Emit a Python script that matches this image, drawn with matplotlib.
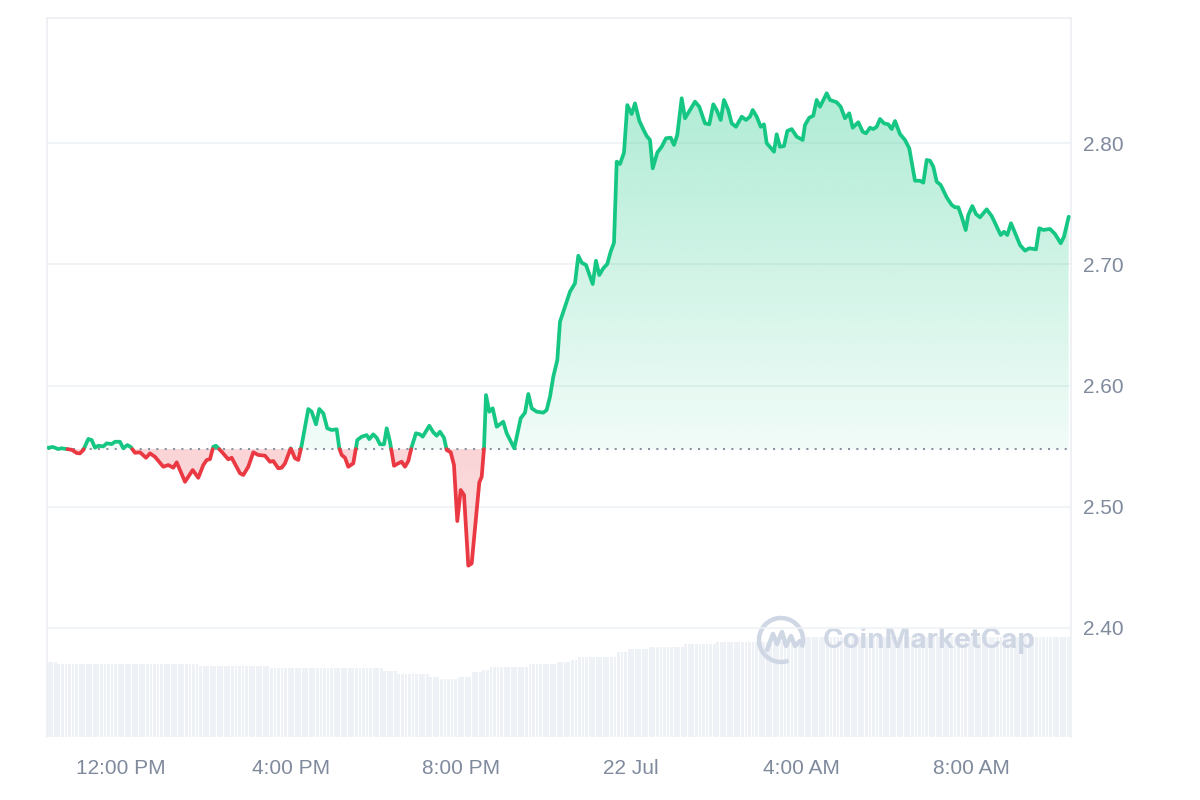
import numpy as np
import matplotlib.pyplot as plt
import matplotlib.colors as mcolors
from matplotlib.patches import Arc

plt.rcParams['font.family'] = ['Liberation Sans', 'DejaVu Sans']

# hours relative to 12:00 PM, 21 Jul
times = [-1.711, -1.600, -1.482, -1.395, -1.278, -1.160, -1.042, -0.965, -0.887, -0.769,
         -0.689, -0.612, -0.534, -0.416, -0.336, -0.219, -0.141, -0.024, 0.054, 0.148,
         0.228, 0.329, 0.447, 0.588, 0.682, 0.800, 0.995, 1.113, 1.231, 1.311,
         1.506, 1.687, 1.819, 1.936, 2.016, 2.094, 2.172, 2.235, 2.369, 2.525,
         2.605, 2.800, 2.878, 2.995, 3.113, 3.231, 3.388, 3.506, 3.584, 3.701,
         3.781, 3.859, 3.993, 4.094, 4.172, 4.252, 4.407, 4.487, 4.588, 4.666,
         4.760, 4.854, 4.958, 5.075, 5.136, 5.193, 5.271, 5.348, 5.466, 5.560,
         5.664, 5.781, 5.842, 5.936, 6.016, 6.094, 6.188, 6.252, 6.329, 6.424,
         6.525, 6.605, 6.682, 6.760, 6.840, 6.941, 7.035, 7.099, 7.254, 7.348,
         7.428, 7.506, 7.600, 7.664, 7.758, 7.835, 7.913, 7.993, 8.071, 8.172,
         8.252, 8.329, 8.431, 8.487, 8.541, 8.588, 8.666, 8.746, 8.840, 8.995,
         9.075, 9.254, 9.405, 9.506, 9.584, 9.664, 9.781, 9.936, 10.016, 10.094,
         10.172, 10.266, 10.329, 10.447, 10.565, 10.682, 10.760, 10.840, 10.941, 11.099,
         11.176, 11.254, 11.348, 11.442, 11.522, 11.600, 11.664, 11.741, 11.835, 11.913,
         12.016, 12.094, 12.195, 12.289, 12.369, 12.447, 12.511, 12.620, 12.722, 12.824,
         12.934, 13.012, 13.089, 13.193, 13.271, 13.388, 13.506, 13.607, 13.741, 13.842,
         13.936, 14.016, 14.111, 14.188, 14.289, 14.369, 14.471, 14.605, 14.706, 14.800,
         14.864, 14.958, 15.052, 15.129, 15.193, 15.287, 15.365, 15.428, 15.506, 15.600,
         15.678, 15.781, 15.899, 16.040, 16.094, 16.195, 16.289, 16.369, 16.447, 16.605,
         16.682, 16.840, 16.934, 17.035, 17.136, 17.216, 17.348, 17.452, 17.529, 17.624,
         17.701, 17.781, 17.859, 17.953, 18.054, 18.134, 18.212, 18.329, 18.447, 18.548,
         18.682, 18.800, 18.878, 18.958, 19.035, 19.113, 19.193, 19.287, 19.428, 19.546,
         19.624, 19.701, 19.781, 19.875, 19.936, 20.031, 20.118, 20.212, 20.369, 20.487,
         20.588, 20.699, 20.776, 20.854, 20.941, 21.035, 21.153, 21.271, 21.372, 21.529,
         21.607, 21.701, 21.859, 21.976, 22.111, 22.188, 22.299]

prices = [2.5487, 2.5493, 2.5476, 2.5482, 2.5476, 2.5470, 2.5443, 2.5440, 2.5468, 2.5559,
          2.5550, 2.5487, 2.5503, 2.5498, 2.5523, 2.5517, 2.5536, 2.5536, 2.5482, 2.5509,
          2.5493, 2.5445, 2.5449, 2.5404, 2.5440, 2.5412, 2.5330, 2.5344, 2.5322, 2.5366,
          2.5206, 2.5303, 2.5239, 2.5344, 2.5385, 2.5393, 2.5495, 2.5503, 2.5454, 2.5391,
          2.5404, 2.5276, 2.5262, 2.5330, 2.5449, 2.5427, 2.5421, 2.5371, 2.5377, 2.5317,
          2.5322, 2.5358, 2.5482, 2.5400, 2.5386, 2.5509, 2.5806, 2.5784, 2.5680, 2.5806,
          2.5771, 2.5647, 2.5633, 2.5639, 2.5482, 2.5427, 2.5404, 2.5330, 2.5358, 2.5550,
          2.5578, 2.5591, 2.5558, 2.5597, 2.5569, 2.5515, 2.5515, 2.5647, 2.5536, 2.5338,
          2.5358, 2.5371, 2.5330, 2.5377, 2.5495, 2.5606, 2.5597, 2.5578, 2.5668, 2.5614,
          2.5586, 2.5619, 2.5569, 2.5468, 2.5449, 2.5344, 2.4882, 2.5138, 2.5097, 2.4514,
          2.4533, 2.4822, 2.5201, 2.5247, 2.5482, 2.5921, 2.5784, 2.5812, 2.5660, 2.5701,
          2.5606, 2.5482, 2.5730, 2.5776, 2.5930, 2.5812, 2.5784, 2.5776, 2.5798, 2.5908,
          2.6073, 2.6210, 2.6526, 2.6650, 2.6774, 2.6843, 2.7070, 2.7013, 2.6994, 2.6837,
          2.7029, 2.6911, 2.6967, 2.7002, 2.7104, 2.7178, 2.7846, 2.7827, 2.7920, 2.8313,
          2.8239, 2.8327, 2.8184, 2.8113, 2.8058, 2.8025, 2.7791, 2.7922, 2.7969, 2.8039,
          2.8044, 2.7984, 2.8066, 2.8369, 2.8204, 2.8272, 2.8341, 2.8299, 2.8162, 2.8154,
          2.8319, 2.8272, 2.8190, 2.8355, 2.8272, 2.8162, 2.8134, 2.8217, 2.8190, 2.8217,
          2.8272, 2.8217, 2.8134, 2.8154, 2.7998, 2.7961, 2.7928, 2.8072, 2.7969, 2.7975,
          2.8099, 2.8115, 2.8052, 2.8025, 2.8148, 2.8209, 2.8225, 2.8355, 2.8299, 2.8410,
          2.8355, 2.8336, 2.8299, 2.8204, 2.8245, 2.8126, 2.8171, 2.8093, 2.8080, 2.8126,
          2.8115, 2.8134, 2.8198, 2.8162, 2.8154, 2.8115, 2.8181, 2.8074, 2.8025, 2.7956,
          2.7689, 2.7689, 2.7673, 2.7860, 2.7854, 2.7805, 2.7681, 2.7654, 2.7552, 2.7489,
          2.7470, 2.7470, 2.7392, 2.7282, 2.7406, 2.7480, 2.7414, 2.7387, 2.7453, 2.7398,
          2.7324, 2.7241, 2.7268, 2.7241, 2.7338, 2.7260, 2.7159, 2.7112, 2.7132, 2.7123,
          2.7297, 2.7283, 2.7291, 2.7250, 2.7173, 2.7227, 2.7392]

open_price = 2.5475

# volume (24h rolling, arbitrary units) as steps: level i holds until vol_breaks[i]
vol_breaks = [-1.48, 1.86, 3.46, 6.14, 6.49, 7.27, 7.46, 7.91, 8.21, 8.47, 8.64,
              9.62, 10.26, 10.56, 10.73, 11.67, 11.91, 12.38, 13.22, 14.02, 16.05]
vol_levels = [7.47, 7.27, 7.07, 6.87, 6.63, 6.27, 6.03, 5.83, 6.03, 6.47, 6.67,
              7.03, 7.27, 7.47, 7.70, 7.97, 8.47, 8.80, 9.03, 9.27, 9.47, 10.03]

xtick_pos = [0, 4, 8, 12, 16, 20]
xtick_labels = ['12:00 PM', '4:00 PM', '8:00 PM', '22 Jul', '4:00 AM', '8:00 AM']
ytick_vals = [2.40, 2.50, 2.60, 2.70, 2.80]

GREEN = '#16c784'
RED = '#ea3943'
GREY_TXT = '#808a9d'
GRID = '#eff2f5'

t = np.array(times)
p = np.array(prices)
assert len(t) == len(p)


def with_crossings(x, y, base):
    xx, yy = [x[0]], [y[0]]
    for i in range(1, len(x)):
        a, b = y[i - 1] - base, y[i] - base
        if a * b < 0:
            f = a / (a - b)
            xx.append(x[i - 1] + f * (x[i] - x[i - 1]))
            yy.append(base)
        xx.append(x[i])
        yy.append(y[i])
    return np.array(xx), np.array(yy)


def gradient_fill(ax, x, y1, y2, color, a_top, a_bot, ylo, yhi):
    poly = ax.fill_between(x, y1, y2, facecolor='none', edgecolor='none')
    img = np.zeros((256, 1, 4))
    img[:, :, :3] = mcolors.to_rgb(color)
    img[:, 0, 3] = np.linspace(a_top, a_bot, 256)
    im = ax.imshow(img, aspect='auto', origin='upper', zorder=2,
                   extent=[x.min(), x.max(), ylo, yhi], interpolation='bilinear')
    im.set_clip_path(poly.get_paths()[0], transform=ax.transData)


tt, pp = with_crossings(t, p, open_price)

fig = plt.figure(figsize=(12, 8), dpi=100)
pos = [47 / 1200, 63 / 800, 1024 / 1200, 719 / 800]
xlim = (-1.741, 22.353)
ylim = (2.3101, 2.9031)

# volume axes (behind)
axv = fig.add_axes(pos, zorder=0)
step = 5 / 60
bar_t = np.arange(t[0], t[-1] + step / 2, step)
bar_v = np.array(vol_levels)[np.searchsorted(vol_breaks, bar_t)]
axv.bar(bar_t, bar_v, width=step * 0.8, color='#eef1f5', linewidth=0)
axv.set_xlim(xlim)
axv.set_ylim(0, 71.9)
axv.axis('off')

# watermark
axw = fig.add_axes([0, 0, 1, 1], zorder=1)
axw.set_xlim(0, 1200)
axw.set_ylim(800, 0)
axw.axis('off')
axw.add_patch(Arc((781, 640), 44, 44, theta1=70, theta2=20, color='#cfd6e4', lw=3.2))
axw.plot([767, 773, 777, 782, 786, 791, 795, 800], [650, 634, 644, 632, 646, 636, 646, 641],
         color='#cfd6e4', lw=3.2, solid_joinstyle='round', solid_capstyle='round')
axw.text(823, 641, 'CoinMarketCap', fontsize=20, fontweight='bold', color='#cfd6e4',
         ha='left', va='center', family=['Inter', 'DejaVu Sans'])

# price axes
ax = fig.add_axes(pos, zorder=2)
ax.set_facecolor('none')

gradient_fill(ax, tt, open_price, np.maximum(pp, open_price), GREEN, 0.34, 0.06,
              open_price, pp.max())
gradient_fill(ax, tt, np.minimum(pp, open_price), open_price, RED, 0.22, 0.14,
              pp.min(), open_price)

ax.plot([tt[0], tt[-1]], [open_price, open_price], ls=(0, (1, 3)), color='#8c93a0',
        lw=1.5, zorder=3)

green = np.where(pp >= open_price, pp, np.nan)
red = np.where(pp <= open_price, pp, np.nan)
ax.plot(tt, green, color=GREEN, lw=2.7, solid_joinstyle='round', solid_capstyle='round', zorder=4)
ax.plot(tt, red, color=RED, lw=2.7, solid_joinstyle='round', solid_capstyle='round', zorder=4)

ax.set_xlim(xlim)
ax.set_ylim(ylim)
ax.set_yticks(ytick_vals)
ax.set_yticklabels([f'{v:.2f}' for v in ytick_vals])
ax.set_xticks(xtick_pos)
ax.set_xticklabels(xtick_labels)
ax.yaxis.tick_right()
ax.tick_params(axis='y', length=0, pad=8.5, labelsize=15, labelcolor=GREY_TXT)
ax.tick_params(axis='x', length=0, pad=16, labelsize=15, labelcolor=GREY_TXT)
ax.grid(axis='y', color=GRID, lw=1.2)
ax.set_axisbelow(True)
for side in ['left', 'right', 'top']:
    ax.spines[side].set_color('#eceff3')
    ax.spines[side].set_linewidth(1.2)
ax.spines['bottom'].set_visible(False)

fig.savefig('out.png', dpi=100)
